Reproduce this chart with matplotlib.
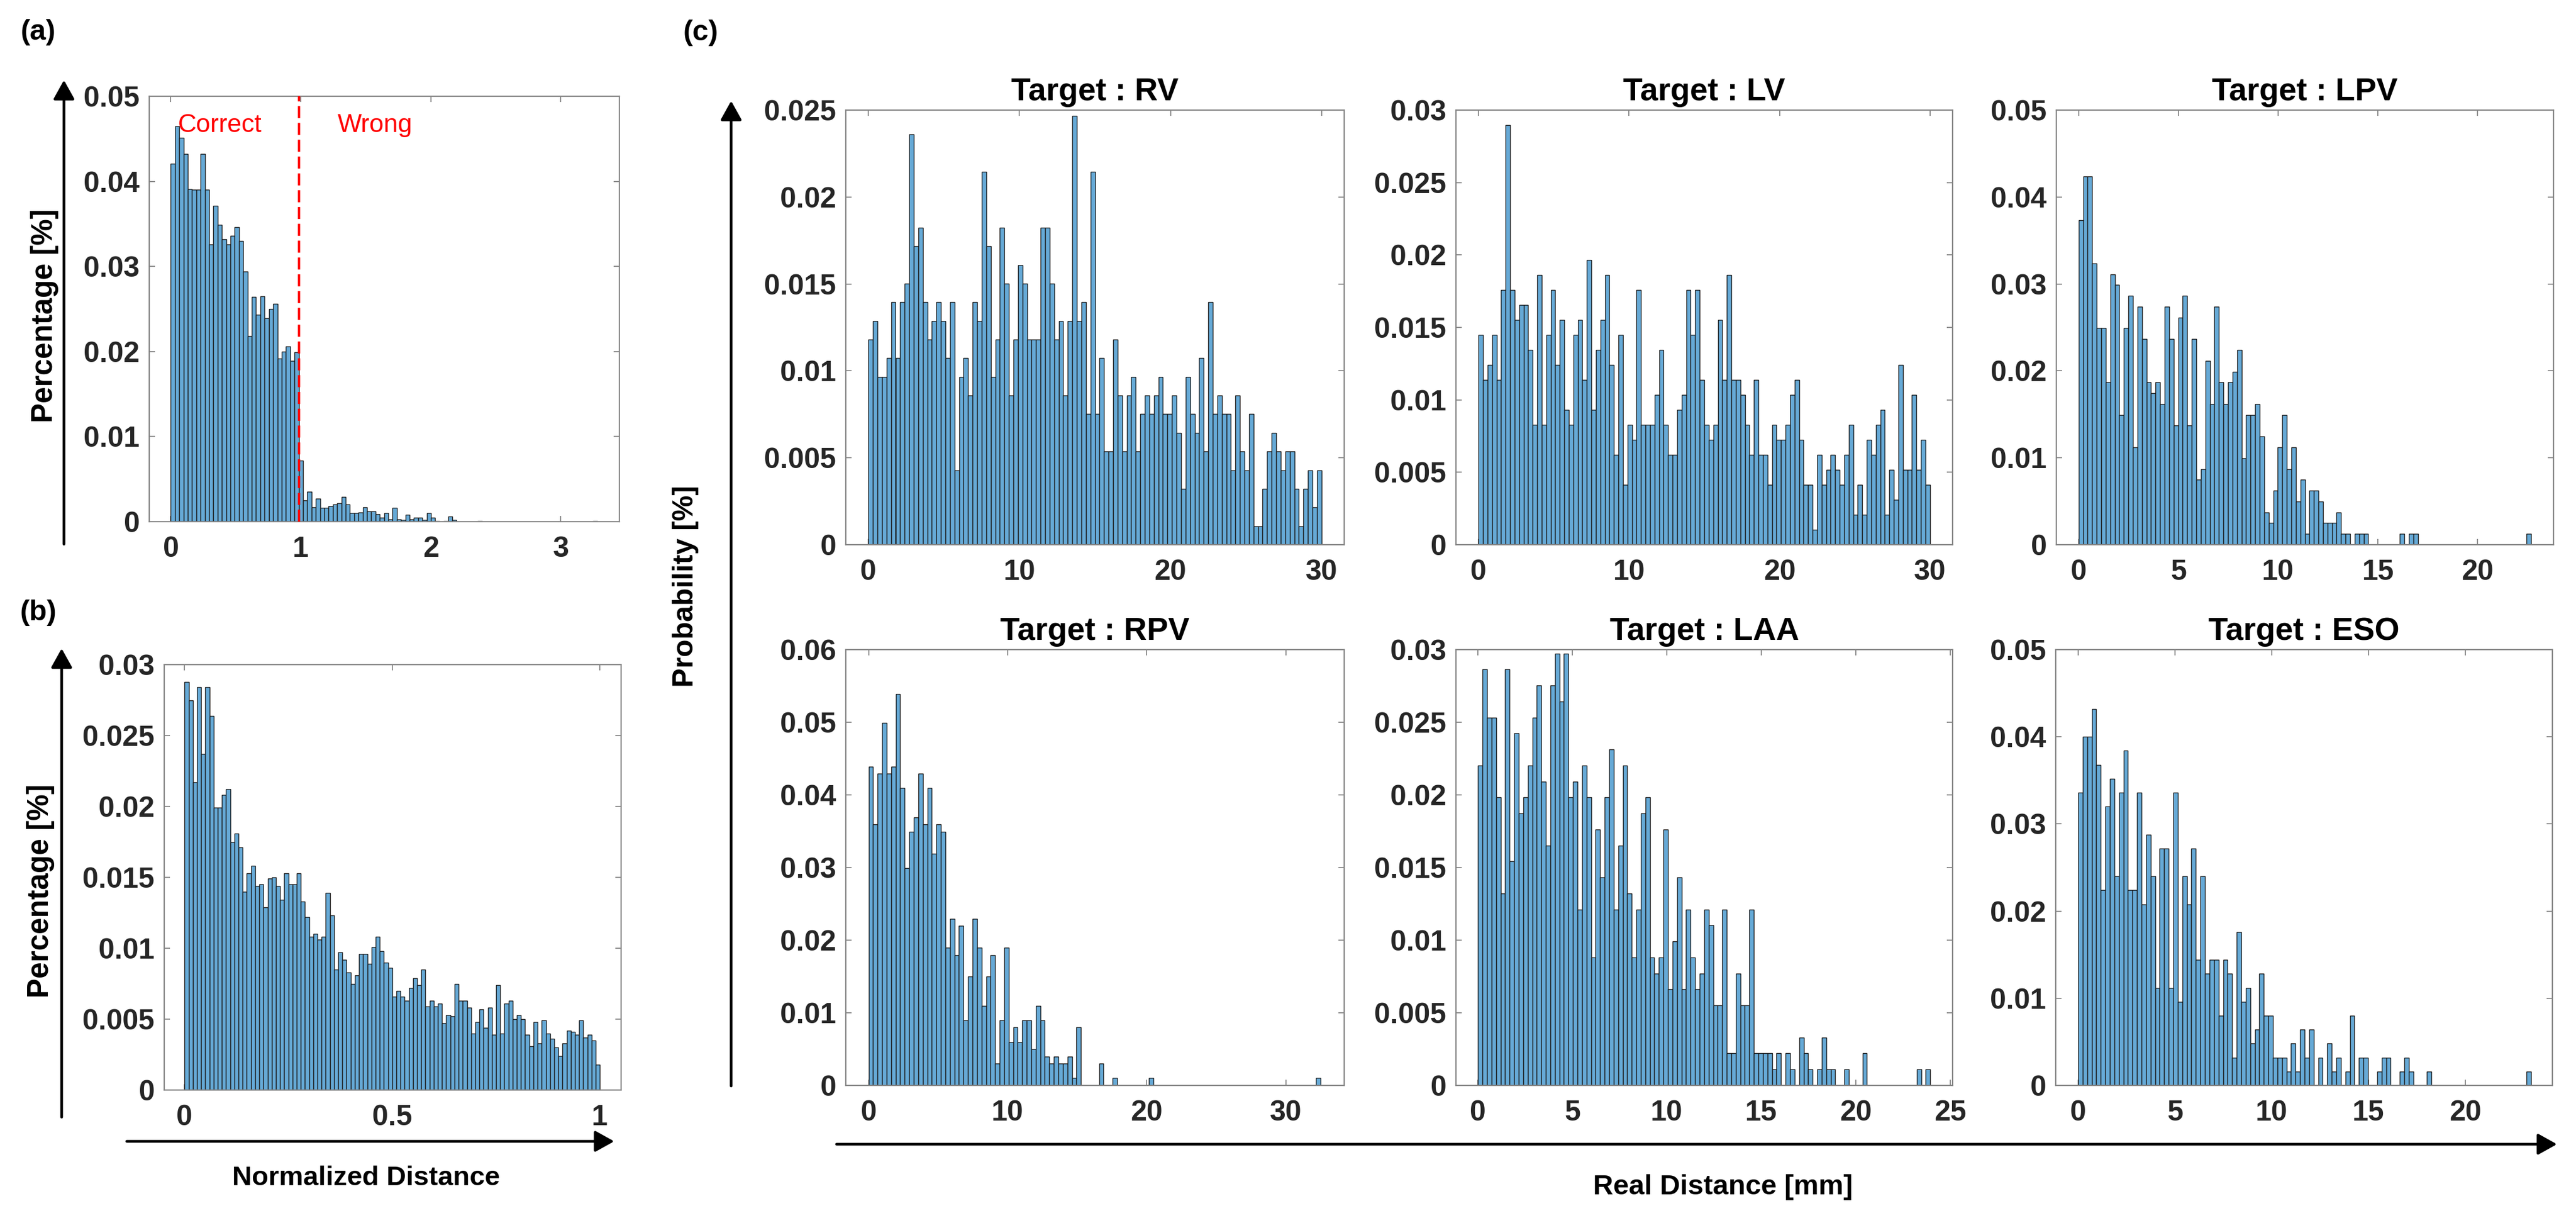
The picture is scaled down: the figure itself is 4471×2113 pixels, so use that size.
import numpy as np
import matplotlib
matplotlib.use("Agg")
import matplotlib.pyplot as plt
from matplotlib.ticker import FuncFormatter

# ---------------- data ----------------
# (a) normalized distance, all samples (probability per bin)
A_BIN_WIDTH = 0.0328
A_VALUES = [0.0421, 0.0465, 0.0451, 0.0432, 0.0391, 0.0390, 0.0390, 0.0432, 0.0390, 0.0326,
            0.0371, 0.0349, 0.0332, 0.0326, 0.0336, 0.0346, 0.0330, 0.0294, 0.0218, 0.0264,
            0.0243, 0.0265, 0.0239, 0.0250, 0.0256, 0.0192, 0.0200, 0.0206, 0.0189, 0.0199,
            0.0072, 0.0025, 0.0035, 0.0017, 0.0027, 0.0016, 0.0016, 0.0018, 0.0020, 0.0022,
            0.0029, 0.0020, 0.0010, 0.0010, 0.0011, 0.0017, 0.0012, 0.0012, 0.0009, 0.0005,
            0.0010, 0.0003, 0.0016, 0.0003, 0.0002, 0.0008, 0.0003, 0.0005, 0.0005, 0.0002,
            0.0010, 0.0005, 0.0001, 0.0000, 0.0001, 0.0006, 0.0002, 0.0000, 0.0000, 0.0000,
            0.0000, 0.0000, 0.0001, 0.0000, 0.0000, 0.0000, 0.0000, 0.0000, 0.0000, 0.0000,
            0.0000, 0.0000, 0.0000, 0.0000, 0.0000, 0.0000, 0.0000, 0.0000, 0.0000, 0.0000,
            0.0000, 0.0000, 0.0000, 0.0000, 0.0000, 0.0000, 0.0000, 0.0000, 0.0000, 0.0001]
A_THRESHOLD = 0.985

# (b) normalized distance, correct samples only
B_BIN_WIDTH = 0.01
B_VALUES = [0.0288, 0.0275, 0.0217, 0.0284, 0.0237, 0.0284, 0.0264, 0.0199, 0.0199, 0.0208,
            0.0212, 0.0175, 0.0181, 0.0171, 0.0140, 0.0153, 0.0158, 0.0144, 0.0145, 0.0129,
            0.0149, 0.0150, 0.0144, 0.0134, 0.0153, 0.0145, 0.0145, 0.0153, 0.0133, 0.0122,
            0.0108, 0.0110, 0.0106, 0.0108, 0.0139, 0.0123, 0.0085, 0.0097, 0.0092, 0.0083,
            0.0075, 0.0081, 0.0096, 0.0096, 0.0089, 0.0101, 0.0108, 0.0098, 0.0090, 0.0086,
            0.0066, 0.0070, 0.0066, 0.0063, 0.0072, 0.0079, 0.0074, 0.0085, 0.0059, 0.0063,
            0.0059, 0.0061, 0.0047, 0.0053, 0.0052, 0.0075, 0.0063, 0.0063, 0.0058, 0.0040,
            0.0048, 0.0057, 0.0044, 0.0058, 0.0039, 0.0074, 0.0040, 0.0061, 0.0063, 0.0050,
            0.0053, 0.0050, 0.0039, 0.0031, 0.0048, 0.0033, 0.0049, 0.0040, 0.0036, 0.0030,
            0.0024, 0.0033, 0.0042, 0.0041, 0.0039, 0.0049, 0.0037, 0.0039, 0.0035, 0.0018]

# (c) real distance per target: counts per bin (normalised to probability)
TARGETS = ["RV", "LV", "LPV", "RPV", "LAA", "ESO"]
BIN_WIDTHS = {"RV": 0.3, "LV": 0.3, "LPV": 0.2268, "RPV": 0.325, "LAA": 0.2395, "ESO": 0.234}
RV_COUNTS = [11, 12, 9, 9, 10, 13, 10, 13, 14, 22, 16, 17, 13, 11, 12, 13, 12, 10, 13, 4,
             9, 10, 8, 13, 12, 20, 16, 9, 11, 17, 14, 8, 11, 15, 14, 11, 11, 11, 17, 17,
             14, 11, 12, 8, 12, 23, 12, 13, 7, 20, 7, 10, 5, 5, 11, 8, 5, 8, 9, 5,
             7, 8, 7, 8, 9, 7, 7, 8, 6, 3, 9, 7, 6, 10, 5, 13, 7, 8, 7, 7,
             4, 8, 5, 4, 7, 1, 1, 3, 5, 6, 5, 4, 5, 5, 3, 1, 3, 4, 2, 4]
LV_COUNTS = [14, 11, 12, 14, 11, 17, 28, 17, 15, 16, 16, 13, 8, 18, 8, 14, 17, 12, 15, 9,
             8, 14, 15, 11, 19, 9, 13, 15, 18, 12, 6, 14, 4, 8, 7, 17, 8, 8, 8, 10,
             13, 8, 6, 6, 9, 10, 17, 14, 17, 11, 8, 7, 8, 15, 11, 18, 11, 11, 10, 8,
             6, 11, 6, 6, 4, 8, 7, 7, 8, 10, 11, 7, 4, 4, 1, 6, 4, 5, 6, 5,
             4, 6, 8, 2, 4, 2, 7, 6, 8, 9, 2, 5, 3, 12, 5, 5, 10, 5, 7, 4]
LPV_COUNTS = [30, 34, 34, 26, 20, 20, 15, 25, 24, 12, 20, 23, 9, 22, 19, 15, 14, 15, 13, 22,
              19, 11, 21, 23, 11, 19, 6, 7, 17, 13, 22, 15, 13, 15, 16, 18, 8, 12, 12, 13,
              10, 3, 2, 5, 9, 12, 7, 9, 4, 6, 1, 5, 5, 4, 2, 2, 2, 3, 1, 1,
              0, 1, 1, 1, 0, 0, 0, 0, 0, 0, 0, 1, 0, 1, 1, 0, 0, 0, 0, 0,
              0, 0, 0, 0, 0, 0, 0, 0, 0, 0, 0, 0, 0, 0, 0, 0, 0, 0, 0, 1]
RPV_COUNTS = [44, 36, 43, 50, 43, 44, 54, 41, 30, 35, 37, 43, 36, 41, 32, 36, 35, 19, 23, 18,
              22, 9, 15, 23, 19, 11, 15, 18, 3, 9, 19, 6, 8, 6, 9, 9, 5, 11, 9, 4,
              3, 4, 3, 3, 4, 1, 8, 0, 0, 0, 0, 3, 0, 0, 1, 0, 0, 0, 0, 0,
              0, 0, 1, 0, 0, 0, 0, 0, 0, 0, 0, 0, 0, 0, 0, 0, 0, 0, 0, 0,
              0, 0, 0, 0, 0, 0, 0, 0, 0, 0, 0, 0, 0, 0, 0, 0, 0, 0, 0, 1]
LAA_COUNTS = [20, 26, 23, 23, 18, 12, 26, 14, 22, 17, 18, 20, 23, 25, 19, 15, 25, 27, 24, 27,
              18, 19, 11, 20, 18, 8, 16, 13, 18, 21, 11, 15, 20, 12, 8, 11, 17, 18, 8, 7,
              8, 16, 6, 9, 13, 6, 11, 8, 6, 7, 11, 10, 5, 5, 11, 2, 2, 7, 5, 5,
              11, 2, 2, 2, 2, 1, 2, 0, 2, 1, 0, 3, 2, 1, 0, 1, 3, 1, 1, 0,
              0, 1, 0, 0, 0, 2, 0, 0, 0, 0, 0, 0, 0, 0, 0, 0, 0, 1, 0, 1]
ESO_COUNTS = [21, 25, 25, 27, 23, 14, 20, 22, 15, 21, 24, 14, 14, 21, 13, 18, 15, 7, 17, 17,
              7, 21, 6, 15, 13, 17, 9, 15, 8, 9, 9, 5, 9, 8, 2, 11, 6, 7, 3, 4,
              8, 5, 5, 2, 2, 2, 1, 3, 1, 4, 2, 4, 0, 2, 0, 3, 1, 2, 0, 1,
              5, 0, 2, 2, 0, 0, 1, 2, 2, 0, 0, 1, 2, 1, 0, 0, 0, 1, 0, 0,
              0, 0, 0, 0, 0, 0, 0, 0, 0, 0, 0, 0, 0, 0, 0, 0, 0, 0, 0, 1]
COUNTS = {"RV": RV_COUNTS, "LV": LV_COUNTS, "LPV": LPV_COUNTS,
          "RPV": RPV_COUNTS, "LAA": LAA_COUNTS, "ESO": ESO_COUNTS}

A_XTICKS = [0, 1, 2, 3]
A_YTICKS = [0, 0.01, 0.02, 0.03, 0.04, 0.05]
B_XTICKS = [0, 0.5, 1]
B_YTICKS = [0, 0.005, 0.01, 0.015, 0.02, 0.025, 0.03]
C_XTICKS = {"RV": [0, 10, 20, 30], "LV": [0, 10, 20, 30], "LPV": [0, 5, 10, 15, 20],
            "RPV": [0, 10, 20, 30], "LAA": [0, 5, 10, 15, 20, 25], "ESO": [0, 5, 10, 15, 20]}
C_YTICKS = {"RV": [0, 0.005, 0.01, 0.015, 0.02, 0.025],
            "LV": [0, 0.005, 0.01, 0.015, 0.02, 0.025, 0.03],
            "LPV": [0, 0.01, 0.02, 0.03, 0.04, 0.05],
            "RPV": [0, 0.01, 0.02, 0.03, 0.04, 0.05, 0.06],
            "LAA": [0, 0.005, 0.01, 0.015, 0.02, 0.025, 0.03],
            "ESO": [0, 0.01, 0.02, 0.03, 0.04, 0.05]}

# ---------------- style ----------------
plt.rcParams['font.family'] = ['Liberation Sans', 'DejaVu Sans']
plt.rcParams['font.weight'] = 'bold'

W, H = 4471, 2113
fig = plt.figure(figsize=(W / 100, H / 100), dpi=100)
fig.patch.set_facecolor('white')

FACE = (0.40, 0.668, 0.845)
EDGE = '#1a1a1a'
SPINE = '#858585'
TICKLAB = '#262626'
fmt = FuncFormatter(lambda v, p: f'{v:g}')


def add_ax(l, r, t, b):
    return fig.add_axes([l / W, 1 - b / H, (r - l) / W, (b - t) / H])


def hist(ax, values, width):
    values = np.asarray(values, dtype=float)
    edges = np.arange(len(values)) * width
    ax.bar(edges, values, width=width, align='edge', color=FACE,
           edgecolor=EDGE, linewidth=1.0, zorder=2)


def style(ax, xlim, ylim, xticks, yticks):
    ax.set_xlim(*xlim)
    ax.set_ylim(*ylim)
    ax.set_xticks(xticks)
    ax.set_yticks(yticks)
    ax.xaxis.set_major_formatter(fmt)
    ax.yaxis.set_major_formatter(fmt)
    ax.tick_params(direction='in', length=7, width=1.3, color=SPINE,
                   top=True, right=True, labelsize=36, labelcolor=TICKLAB)
    ax.tick_params(axis='x', pad=18)
    ax.tick_params(axis='y', pad=12)
    for lab in ax.get_xticklabels() + ax.get_yticklabels():
        lab.set_fontweight('bold')
    for sp in ax.spines.values():
        sp.set_color(SPINE)
        sp.set_linewidth(1.6)


def arrow(x0, y0, x1, y1):
    fig.add_artist(matplotlib.patches.FancyArrowPatch(
        (x0 / W, 1 - y0 / H), (x1 / W, 1 - y1 / H), transform=fig.transFigure,
        arrowstyle='-|>,head_length=0.45,head_width=0.25', mutation_scale=45,
        color='black', linewidth=3.4, shrinkA=0, shrinkB=0))


# ---- (a) ----
ax_a = add_ax(259, 1075, 167, 905)
hist(ax_a, A_VALUES, A_BIN_WIDTH)
style(ax_a, (-0.166, 3.45), (0, 0.05), A_XTICKS, A_YTICKS)
ax_a.axvline(A_THRESHOLD, color='red', linestyle=(0, (5, 2)), linewidth=3, zorder=3)
ax_a.text(0.054, 0.0466, 'Correct', color='red', fontsize=32, fontweight='normal',
          ha='left', va='center', zorder=4)
ax_a.text(1.28, 0.0466, 'Wrong', color='red', fontsize=32, fontweight='normal',
          ha='left', va='center', zorder=4)

# ---- (b) ----
ax_b = add_ax(285, 1078, 1153, 1891)
hist(ax_b, B_VALUES, B_BIN_WIDTH)
style(ax_b, (-0.049, 1.051), (0, 0.03), B_XTICKS, B_YTICKS)

# ---- (c) ----
boxes = {"RV": (1468, 2333, 191, 945), "LV": (2527, 3389, 191, 945),
         "LPV": (3569, 4432, 191, 945), "RPV": (1468, 2333, 1127, 1883),
         "LAA": (2527, 3389, 1127, 1883), "ESO": (3568, 4430, 1127, 1883)}
xlims = {"RV": (-1.5, 31.5), "LV": (-1.5, 31.5), "LPV": (-1.12, 23.8),
         "RPV": (-1.64, 34.2), "LAA": (-1.17, 25.13), "ESO": (-1.16, 24.5)}
for t in TARGETS:
    ax = add_ax(*boxes[t])
    c = np.asarray(COUNTS[t], dtype=float)
    hist(ax, c / c.sum(), BIN_WIDTHS[t])
    yt = C_YTICKS[t]
    style(ax, xlims[t], (0, yt[-1]), C_XTICKS[t], yt)
    ax.set_title(f'Target : {t}', fontsize=40, fontweight='bold', pad=12)

# ---- labels & arrows ----
fig.text(66 / W, 1 - 56 / H, '(a)', fontsize=36, fontweight='bold', ha='center', va='center')
fig.text(66 / W, 1 - 1063 / H, '(b)', fontsize=36, fontweight='bold', ha='center', va='center')
fig.text(1216 / W, 1 - 57 / H, '(c)', fontsize=36, fontweight='bold', ha='center', va='center')

fig.text(78 / W, 1 - 548 / H, 'Percentage [%]', rotation=90, fontsize=37,
         fontweight='bold', ha='center', va='center')
fig.text(71 / W, 1 - 1546 / H, 'Percentage [%]', rotation=90, fontsize=37,
         fontweight='bold', ha='center', va='center')
fig.text(1190 / W, 1 - 1017 / H, 'Probability [%]', rotation=90, fontsize=36,
         fontweight='bold', ha='center', va='center')
fig.text(635 / W, 1 - 2044 / H, 'Normalized Distance', fontsize=34,
         fontweight='bold', ha='center', va='center')
fig.text(2990 / W, 1 - 2060 / H, 'Real Distance [mm]', fontsize=35,
         fontweight='bold', ha='center', va='center')

arrow(111, 944, 111, 139)
arrow(107, 1938, 107, 1125)
arrow(220, 1980, 1066, 1980)
arrow(1269, 1884, 1269, 175)
arrow(1452, 1985, 4438, 1985)

fig.savefig('out.png', dpi=100, facecolor='white')
